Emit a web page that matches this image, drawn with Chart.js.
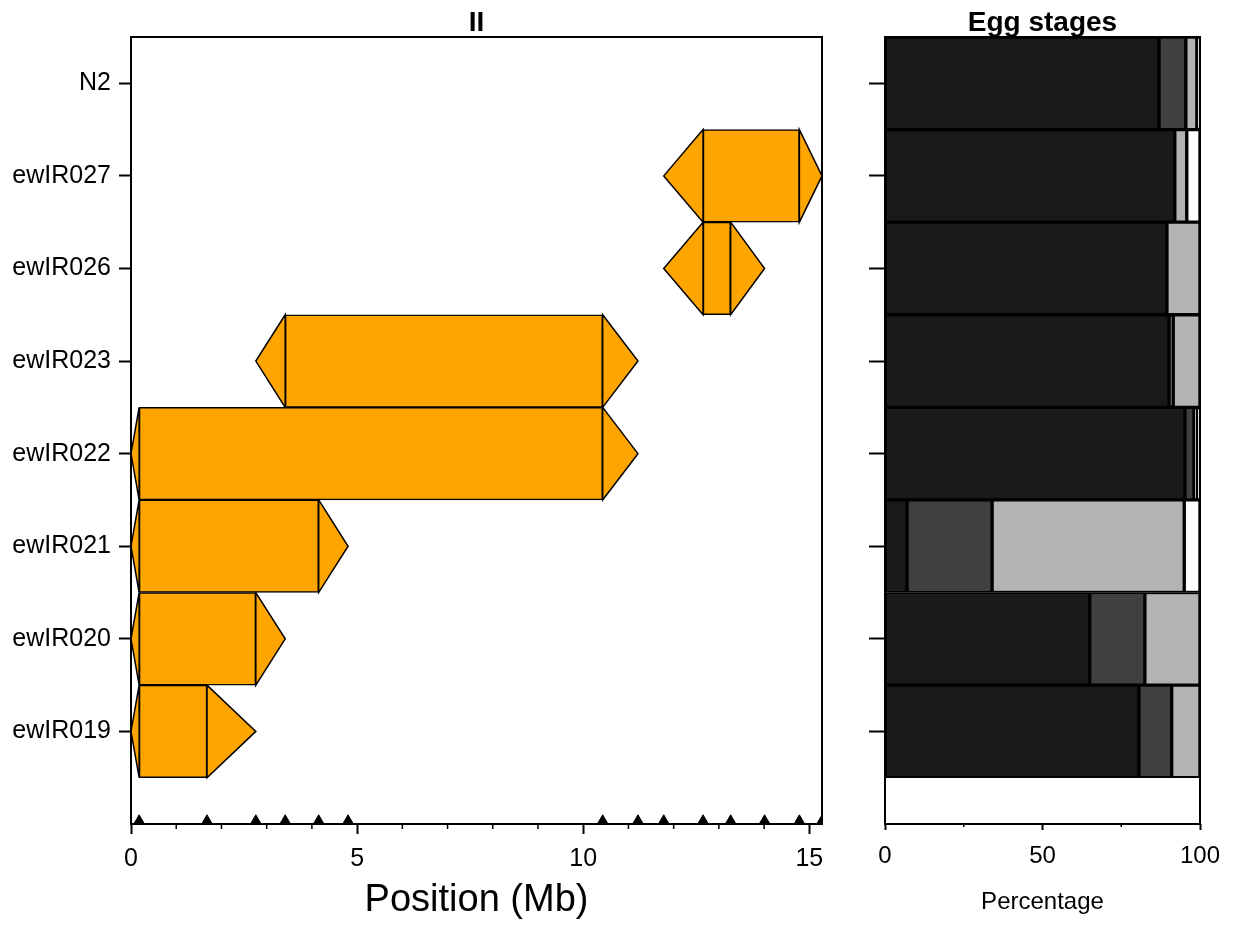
<!DOCTYPE html>
<html lang="en">
<head>
<meta charset="UTF-8">
<title>Chromosome II introgressions and egg stages</title>
<script src="https://cdn.jsdelivr.net/npm/chart.js"></script>
<style>
  body { margin: 0; background: #fff; }
  #wrap { position: relative; width: 1237px; height: 928px; }
  #left { position: absolute; left: 0; top: 0; width: 850px; height: 928px; }
  #right { position: absolute; left: 850px; top: 0; width: 387px; height: 928px; }
</style>
</head>
<body>
<div id="wrap">
  <div id="left"><canvas id="introChart"></canvas></div>
  <div id="right"><canvas id="eggChart"></canvas></div>
</div>
<script>
// rows, top to bottom
const strains = ['N2', 'ewIR027', 'ewIR026', 'ewIR023', 'ewIR022', 'ewIR021', 'ewIR020', 'ewIR019'];
const rowPos = [8, 7, 6, 5, 4, 3, 2, 1];

// introgression on chr II (Mb): solid part and flanking (uncertain) ends
const introStart = [null, 12.65, 12.65, 3.41, 0.18, 0.18, 0.18, 0.18];
const introEnd   = [null, 14.78, 13.26, 10.43, 10.43, 4.15, 2.76, 1.68];
const flankLeft  = [null, 11.78, 11.78, 2.76, 0, 0, 0, 0];
const flankRight = [null, 15.28, 14.01, 11.21, 11.21, 4.80, 3.41, 2.76];

// genotyped marker positions (Mb)
const markers = [0.18, 1.68, 2.76, 3.41, 4.15, 4.80, 10.43, 11.21, 11.78, 12.65, 13.26, 14.01, 14.78, 15.28];
const chrLength = 15.28;
const posTicks = [0, 5, 10, 15];
const posMinor = [1, 2, 3, 4, 6, 7, 8, 9, 11, 12, 13, 14];

// egg stages, percentage per strain
const stageNames = ['Stage 1', 'Stage 2', 'Stage 3', 'Stage 4'];
const stageColors = ['#1a1a1a', '#404040', '#b3b3b3', '#ffffff'];
const stage1 = [87, 92, 89.5, 90.2, 95.2, 7, 65, 80.6];
const stage2 = [8.5, 0, 0, 1.3, 2.9, 27, 17.5, 10.4];
const stage3 = [3.5, 3.8, 10.5, 8.5, 1.0, 61, 17.5, 9];
const stage4 = [1, 4.2, 0, 0, 0.9, 5, 0, 0];
const pctTicks = [0, 50, 100];
const pctMinor = [25, 75];

const orange = '#ffa500';
Chart.defaults.font.family = '"Liberation Sans", Arial, sans-serif';
Chart.defaults.color = '#000';

const frame = {
  id: 'frame',
  afterDraw(chart) {
    const { ctx, chartArea: a } = chart;
    ctx.save();
    ctx.strokeStyle = '#000';
    ctx.lineWidth = 2;
    ctx.strokeRect(a.left, a.top, a.right - a.left, a.bottom - a.top);
    ctx.restore();
  }
};

function minorTicks(values, len) {
  return {
    id: 'minorTicks',
    afterDraw(chart) {
      const { ctx, scales: { x } } = chart;
      ctx.save();
      ctx.strokeStyle = '#000';
      ctx.lineWidth = 1.5;
      values.forEach(v => {
        const px = x.getPixelForValue(v);
        ctx.beginPath();
        ctx.moveTo(px, chart.chartArea.bottom);
        ctx.lineTo(px, chart.chartArea.bottom + len);
        ctx.stroke();
      });
      ctx.restore();
    }
  };
}

// triangles for the flanking regions
const arrowHeads = {
  id: 'arrowHeads',
  beforeDatasetsDraw(chart) {
    const { ctx, scales: { x, y } } = chart;
    ctx.save();
    ctx.fillStyle = orange;
    ctx.strokeStyle = '#000';
    ctx.lineWidth = 1.5;
    strains.forEach((s, i) => {
      if (introStart[i] === null) return;
      const yc = y.getPixelForValue(rowPos[i]);
      const yt = y.getPixelForValue(rowPos[i] + 0.5);
      const yb = y.getPixelForValue(rowPos[i] - 0.5);
      [[introStart[i], flankLeft[i]], [introEnd[i], flankRight[i]]].forEach(([base, tip]) => {
        const xb = x.getPixelForValue(base);
        const xt = x.getPixelForValue(tip);
        ctx.beginPath();
        ctx.moveTo(xb, yt);
        ctx.lineTo(xt, yc);
        ctx.lineTo(xb, yb);
        ctx.closePath();
        ctx.fill();
        ctx.stroke();
      });
    });
    ctx.restore();
  }
};

const rowAxis = (labels, tickLen, padding) => ({
  type: 'linear',
  position: 'left',
  min: 0,
  max: 8.5,
  offset: false,
  stacked: true,
  afterBuildTicks: s => { s.ticks = rowPos.map(v => ({ value: v })); },
  ticks: {
    display: labels,
    font: { size: 25 },
    padding: padding,
    callback: v => strains[rowPos.indexOf(v)]
  },
  grid: { offset: false, drawOnChartArea: false, tickLength: tickLen, tickWidth: 2, color: '#000' },
  border: { display: false }
});

const introRows = strains.map((s, i) => i).filter(i => introStart[i] !== null);

new Chart(document.getElementById('introChart'), {
  type: 'bar',
  data: {
    datasets: [{
      type: 'bar',
      label: 'Introgression',
      data: introRows.map(i => ({ x: [introStart[i], introEnd[i]], y: rowPos[i] })),
      backgroundColor: orange,
      borderColor: '#000',
      borderWidth: 1.5,
      borderSkipped: false,
      categoryPercentage: 1,
      barPercentage: 1,
      xAxisID: 'x',
      yAxisID: 'y'
    }, {
      type: 'scatter',
      label: 'Markers',
      data: markers.map(m => ({ x: m, y: 0.04 })),
      pointStyle: 'triangle',
      pointRadius: 5.5,
      backgroundColor: '#000',
      borderColor: '#000',
      borderWidth: 1,
      xAxisID: 'x',
      yAxisID: 'y'
    }]
  },
  options: {
    indexAxis: 'y',
    responsive: true,
    maintainAspectRatio: false,
    animation: false,
    layout: { padding: { left: 0, right: 28, top: 0, bottom: 0 } },
    scales: {
      x: {
        type: 'linear',
        position: 'bottom',
        min: 0,
        max: chrLength,
        afterBuildTicks: s => { s.ticks = posTicks.map(v => ({ value: v })); },
        afterFit: s => { s.height = 104; },
        ticks: { font: { size: 25 }, padding: 10, maxRotation: 0 },
        grid: { drawOnChartArea: false, tickLength: 10, tickWidth: 2, color: '#000' },
        border: { display: false },
        title: { display: true, text: 'Position (Mb)', font: { size: 38 }, padding: { top: 0, bottom: 5 } }
      },
      top: {
        type: 'linear',
        axis: 'x',
        position: 'top',
        afterFit: s => { s.height = 37; },
        ticks: { display: false },
        grid: { display: false },
        border: { display: false },
        title: { display: true, text: 'II', font: { size: 28, weight: 'bold' }, padding: { top: 6, bottom: 0 } }
      },
      y: Object.assign(rowAxis(true, 12, 8), { afterFit: s => { s.width = 131; } })
    },
    plugins: { legend: { display: false }, tooltip: { enabled: false } }
  },
  plugins: [arrowHeads, frame, minorTicks(posMinor, 5)]
});

const stages = [stage1, stage2, stage3, stage4];

new Chart(document.getElementById('eggChart'), {
  type: 'bar',
  data: {
    datasets: stages.map((vals, k) => ({
      label: stageNames[k],
      data: vals.map((v, i) => ({ x: v, y: rowPos[i] })),
      backgroundColor: stageColors[k],
      borderColor: '#000',
      borderWidth: 2,
      borderSkipped: false,
      categoryPercentage: 1,
      barPercentage: 1,
      xAxisID: 'x',
      yAxisID: 'y'
    }))
  },
  options: {
    indexAxis: 'y',
    responsive: true,
    maintainAspectRatio: false,
    animation: false,
    layout: { padding: { left: 0, right: 37, top: 0, bottom: 0 } },
    scales: {
      x: {
        type: 'linear',
        position: 'bottom',
        min: 0,
        max: 100,
        stacked: true,
        afterBuildTicks: s => { s.ticks = pctTicks.map(v => ({ value: v })); },
        afterFit: s => { s.height = 104; },
        ticks: { font: { size: 24 }, padding: 12, maxRotation: 0 },
        grid: { drawOnChartArea: false, tickLength: 6, tickWidth: 2, color: '#000' },
        border: { display: false },
        title: { display: true, text: 'Percentage', font: { size: 24 }, padding: { top: 0, bottom: 11 } }
      },
      top: {
        type: 'linear',
        axis: 'x',
        position: 'top',
        afterFit: s => { s.height = 37; },
        ticks: { display: false },
        grid: { display: false },
        border: { display: false },
        title: { display: true, text: 'Egg stages', font: { size: 28, weight: 'bold' }, padding: { top: 6, bottom: 0 } }
      },
      y: Object.assign(rowAxis(false, 16, 0), { afterFit: s => { s.width = 35; } })
    },
    plugins: { legend: { display: false }, tooltip: { enabled: false } }
  },
  plugins: [frame, minorTicks(pctMinor, 3)]
});
</script>
</body>
</html>
